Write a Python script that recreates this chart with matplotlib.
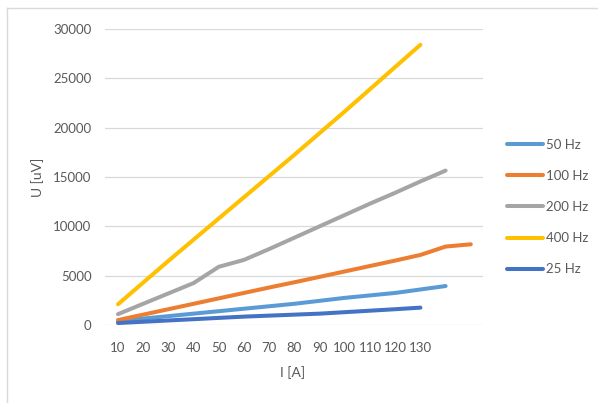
#!/usr/bin/env python3
"""
Induced voltage U vs. current I for several excitation frequencies
"""

import matplotlib
matplotlib.use("Agg")
import matplotlib.pyplot as plt
from matplotlib.lines import Line2D

plt.rcParams['font.family'] = ['Lato', 'DejaVu Sans']

# current steps [A] (only the first 13 are labelled on the axis)
current = [10, 20, 30, 40, 50, 60, 70, 80, 90, 100, 110, 120, 130, 140, 150]
tick_labels = ['10', '20', '30', '40', '50', '60', '70', '80', '90',
               '100', '110', '120', '130']

# measured voltage [uV]
u_50hz = [400, 650, 900, 1150, 1400, 1650, 1900, 2150, 2450, 2750, 3000,
          3250, 3600, 3950]
u_100hz = [500, 1050, 1600, 2150, 2700, 3250, 3800, 4330, 4880, 5430, 5980,
           6530, 7100, 7950, 8180]
u_200hz = [1100, 2150, 3200, 4250, 5900, 6600, 7700, 8850, 10000, 11150,
           12300, 13400, 14550, 15650]
u_400hz = [2100, 4300, 6500, 8650, 10800, 12950, 15100, 17250, 19450, 21650,
           23900, 26150, 28400]
u_25hz = [200, 330, 460, 590, 720, 850, 950, 1050, 1150, 1300, 1450, 1600,
          1760]

series = [
    ('50 Hz', u_50hz, '#5B9BD5'),
    ('100 Hz', u_100hz, '#ED7D31'),
    ('200 Hz', u_200hz, '#A5A5A5'),
    ('400 Hz', u_400hz, '#FFC000'),
    ('25 Hz', u_25hz, '#4472C4'),
]

W, H = 598, 403
fig = plt.figure(figsize=(W / 100, H / 100), dpi=100)
ax = fig.add_axes([105.4 / W, 1 - 325 / H, (483.4 - 105.4) / W, (325 - 29) / H])

for label, values, color in series:
    ax.plot(range(len(values)), values, color=color, linewidth=2.9,
            solid_capstyle='round', solid_joinstyle='round', label=label)

ax.set_xlim(-0.5, len(current) - 0.5)
ax.set_ylim(0, 30000)
ax.set_yticks(range(0, 30001, 5000))
ax.set_xticks(range(len(tick_labels)))
ax.set_xticklabels(tick_labels)
ax.grid(axis='y', color='#D9D9D9', linewidth=0.9)
ax.set_axisbelow(True)
for side in ax.spines.values():
    side.set_visible(False)
ax.tick_params(axis='both', length=0, labelsize=9.5, colors='#595959')
ax.tick_params(axis='y', pad=10)
ax.tick_params(axis='x', pad=12)

fig.text(293 / W, 1 - 373 / H, 'I [A]', ha='center', va='center',
         fontsize=10, color='#595959')
fig.text(38 / W, 1 - 177 / H, 'U [uV]', ha='center', va='center',
         rotation=90, fontsize=10, color='#595959')

leg = ax.legend(loc='center left', bbox_to_anchor=(495 / W, 1 - 207 / H),
                bbox_transform=fig.transFigure, frameon=False, fontsize=9.5,
                handlelength=2.75, handletextpad=0.2, labelspacing=1.45)
for t in leg.get_texts():
    t.set_color('#595959')

# chart area border (top and left edges)
fig.add_artist(Line2D([7 / W, 1], [1 - 8 / H, 1 - 8 / H], color='#D9D9D9',
                      linewidth=1, transform=fig.transFigure))
fig.add_artist(Line2D([7 / W, 7 / W], [0, 1 - 8 / H], color='#D9D9D9',
                      linewidth=1, transform=fig.transFigure))

fig.savefig('out.png', dpi=100)
